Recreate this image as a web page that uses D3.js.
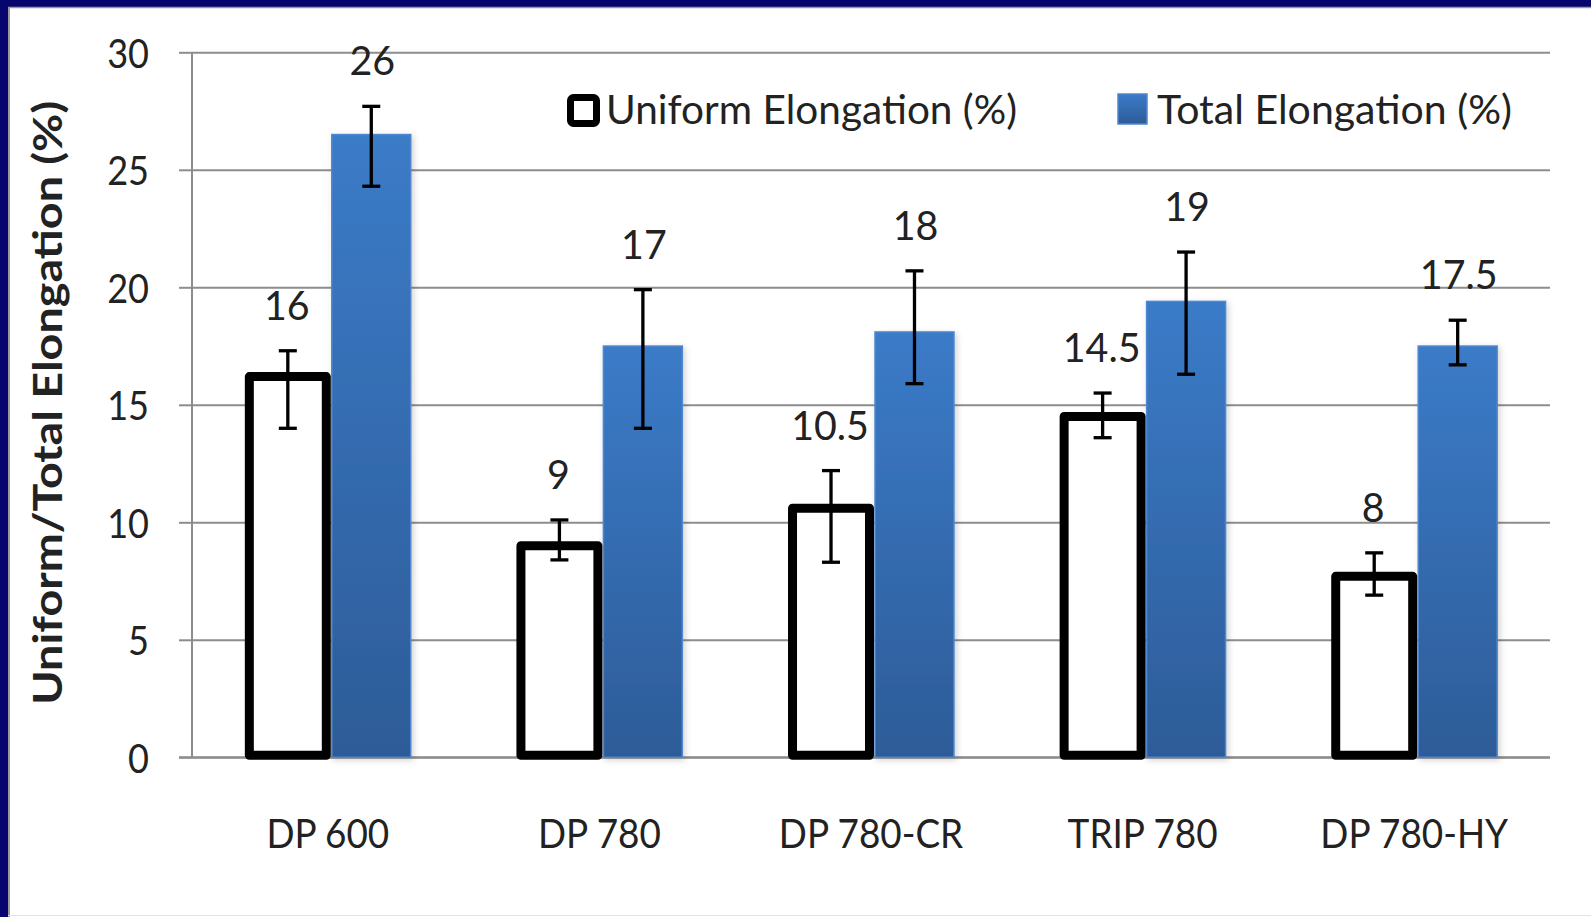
<!DOCTYPE html>
<html>
<head>
<meta charset="utf-8">
<script src="https://cdn.jsdelivr.net/npm/d3@7"></script>
<style>
  html, body { margin: 0; padding: 0; background: #ffffff; }
  svg { display: block; }
  text { font-family: Lato, "Open Sans", sans-serif; fill: #222222; }
</style>
</head>
<body>
<svg id="chart" width="1591" height="917"></svg>
<script>
// ---- data ----
const categories = ["DP 600", "DP 780", "DP 780-CR", "TRIP 780", "DP 780-HY"];
const seriesNames = ["Uniform Elongation (%)", "Total Elongation (%)"];
const uniformValues = [16.2, 9.0, 10.6, 14.5, 7.7];
const totalValues = [26.5, 17.5, 18.1, 19.4, 17.5];
const uniformErrLow = [14.0, 8.4, 8.3, 13.6, 6.9];
const uniformErrHigh = [17.3, 10.1, 12.2, 15.5, 8.7];
const totalErrLow = [24.3, 14.0, 15.9, 16.3, 16.7];
const totalErrHigh = [27.7, 19.9, 20.7, 21.5, 18.6];
const uniformLabels = ["16", "9", "10.5", "14.5", "8"];
const totalLabels = ["26", "17", "18", "19", "17.5"];
const yTicks = [0, 5, 10, 15, 20, 25, 30];
const yTitle = "Uniform/Total Elongation (%)";

// ---- layout ----
const W = 1591, H = 917;
const plot = { left: 192, right: 1550, top: 52.3, bottom: 757.3 };
const FS = 41;

const svg = d3.select("#chart");
const defs = svg.append("defs");
const grad = defs.append("linearGradient").attr("id", "blueGrad")
  .attr("x1", 0).attr("y1", 0).attr("x2", 0).attr("y2", 1);
grad.append("stop").attr("offset", "0%").attr("stop-color", "#3b7bc8");
grad.append("stop").attr("offset", "100%").attr("stop-color", "#2d5c98");

const shadow = defs.append("filter").attr("id", "shadow")
  .attr("x", "-20%").attr("y", "-5%").attr("width", "140%").attr("height", "110%");
shadow.append("feDropShadow").attr("dx", 2).attr("dy", 2).attr("stdDeviation", 3)
  .attr("flood-color", "#000").attr("flood-opacity", 0.18);

// background and frame
svg.append("rect").attr("x", 0).attr("y", 0).attr("width", W).attr("height", H).attr("fill", "#ffffff");
svg.append("rect").attr("x", 0).attr("y", 0).attr("width", W).attr("height", 7).attr("fill", "#06066e");
svg.append("rect").attr("x", 0).attr("y", 0).attr("width", 8).attr("height", H).attr("fill", "#06066e");
svg.append("line").attr("x1", 8).attr("x2", W).attr("y1", 7.5).attr("y2", 7.5).attr("stroke", "#9a9a9a").attr("stroke-width", 1.5);
svg.append("line").attr("x1", 9).attr("x2", 9).attr("y1", 7).attr("y2", H).attr("stroke", "#9a9a9a").attr("stroke-width", 2);
svg.append("line").attr("x1", 8).attr("x2", W).attr("y1", 915.5).attr("y2", 915.5).attr("stroke", "#e2e2e2").attr("stroke-width", 1);

// scales
const y = d3.scaleLinear().domain([0, 30]).range([plot.bottom, plot.top]);
const x0 = d3.scaleBand().domain(categories).range([plot.left, plot.right])
  .paddingInner(0.389).paddingOuter(0.1945);
const x1 = d3.scaleBand().domain(seriesNames).range([0, x0.bandwidth()]);

// gridlines via axis
const gridAxis = d3.axisLeft(y).tickValues(yTicks).tickSize(-(plot.right - plot.left)).tickFormat("");
const gG = svg.append("g").attr("transform", `translate(${plot.left},0)`).call(gridAxis);
gG.select(".domain").remove();
gG.selectAll(".tick line").attr("stroke", "#8d8d8d").attr("stroke-width", 2);

// y axis with ticks
const yAxis = d3.axisLeft(y).tickValues(yTicks).tickSize(13).tickPadding(0).tickFormat(d3.format("d"));
const yG = svg.append("g").attr("transform", `translate(${plot.left},0)`).call(yAxis);
yG.select(".domain").attr("stroke", "#8d8d8d").attr("stroke-width", 2)
  .attr("d", `M0,${plot.top}V${plot.bottom}`);
yG.selectAll(".tick line").attr("stroke", "#8d8d8d").attr("stroke-width", 2);
yG.selectAll(".tick text").remove();
yG.selectAll(".tick").append("text")
  .attr("transform", `translate(-43,15) scale(0.88,1)`)
  .attr("text-anchor", "end")
  .style("font-size", FS + "px")
  .text(d => d3.format("d")(d));

// x axis category labels
const xAxis = d3.axisBottom(x0).tickSize(0).tickPadding(0);
const xG = svg.append("g").attr("transform", `translate(0,${plot.bottom})`).call(xAxis);
xG.select(".domain").remove();
xG.selectAll(".tick text").remove();
xG.selectAll(".tick").append("text")
  .attr("transform", `translate(0,91) scale(0.9,1)`)
  .attr("text-anchor", "middle")
  .style("font-size", FS + "px")
  .text(d => d);

// baseline
svg.append("line").attr("x1", plot.left - 13).attr("x2", plot.right)
  .attr("y1", plot.bottom).attr("y2", plot.bottom).attr("stroke", "#8d8d8d").attr("stroke-width", 2);

// bars
const rows = categories.map((c, i) => ({
  cat: c, u: uniformValues[i], t: totalValues[i],
  uLo: uniformErrLow[i], uHi: uniformErrHigh[i],
  tLo: totalErrLow[i], tHi: totalErrHigh[i],
  uLab: uniformLabels[i], tLab: totalLabels[i]
}));

const bw = x1.bandwidth();
const uX = d => x0(d.cat) + x1(seriesNames[0]) + 4.5;
const uW = bw - 6;
const tX = d => x0(d.cat) + x1(seriesNames[1]) + 4;
const tW = bw - 4;

const groups = svg.append("g");
groups.selectAll("rect.total").data(rows).join("rect").attr("class", "total")
  .attr("x", tX).attr("width", tW)
  .attr("y", d => y(d.t)).attr("height", d => y(0) - y(d.t))
  .attr("fill", "url(#blueGrad)")
  .attr("stroke", "#4f88d0").attr("stroke-width", 1.5)
  .attr("filter", "url(#shadow)");

groups.selectAll("rect.uniform").data(rows).join("rect").attr("class", "uniform")
  .attr("x", uX).attr("width", uW)
  .attr("y", d => y(d.u)).attr("height", d => y(0) - y(d.u) - 2)
  .attr("fill", "#ffffff")
  .attr("stroke", "#000000").attr("stroke-width", 9)
  .attr("stroke-linejoin", "round");

// error bars
const cap = 9;
function errBars(cls, cx, lo, hi) {
  const g = svg.append("g").attr("class", cls);
  const e = g.selectAll("g").data(rows).join("g");
  e.append("line").attr("x1", cx).attr("x2", cx).attr("y1", d => y(hi(d))).attr("y2", d => y(lo(d)))
    .attr("stroke", "#000").attr("stroke-width", 3.3);
  e.append("line").attr("x1", d => cx(d) - cap).attr("x2", d => cx(d) + cap)
    .attr("y1", d => y(hi(d))).attr("y2", d => y(hi(d))).attr("stroke", "#000").attr("stroke-width", 3.3);
  e.append("line").attr("x1", d => cx(d) - cap).attr("x2", d => cx(d) + cap)
    .attr("y1", d => y(lo(d))).attr("y2", d => y(lo(d))).attr("stroke", "#000").attr("stroke-width", 3.3);
}
errBars("uerr", d => uX(d) + uW / 2, d => d.uLo, d => d.uHi);
errBars("terr", d => tX(d) + tW / 2, d => d.tLo, d => d.tHi);

// value labels
const gap = 31;
svg.append("g").selectAll("text").data(rows).join("text")
  .attr("transform", d => `translate(${uX(d) + uW / 2 - 1},${y(d.uHi) - gap}) scale(0.96,1)`)
  .attr("text-anchor", "middle").style("font-size", FS + "px").text(d => d.uLab);
svg.append("g").selectAll("text").data(rows).join("text")
  .attr("transform", d => `translate(${tX(d) + tW / 2 + 1},${y(d.tHi) - gap}) scale(0.96,1)`)
  .attr("text-anchor", "middle").style("font-size", FS + "px").text(d => d.tLab);

// y title
svg.append("text")
  .attr("x", -(plot.top + plot.bottom) / 2 + 2).attr("y", 62)
  .attr("transform", "rotate(-90)")
  .attr("text-anchor", "middle")
  .attr("textLength", 604).attr("lengthAdjust", "spacingAndGlyphs")
  .style("font-size", FS + "px").style("font-weight", "bold")
  .text(yTitle);

// legend
const leg = svg.append("g");
leg.append("rect").attr("x", 570.5).attr("y", 97.5).attr("width", 26).attr("height", 26)
  .attr("rx", 3).attr("fill", "#fff").attr("stroke", "#000").attr("stroke-width", 7);
leg.append("text").attr("x", 606).attr("y", 124)
  .attr("textLength", 411).attr("lengthAdjust", "spacingAndGlyphs")
  .style("font-size", FS + "px").text(seriesNames[0]);
leg.append("rect").attr("x", 1118).attr("y", 94).attr("width", 29).attr("height", 30)
  .attr("fill", "url(#blueGrad)").attr("stroke", "#4f88d0").attr("stroke-width", 1.5);
leg.append("text").attr("x", 1157).attr("y", 124)
  .attr("textLength", 355).attr("lengthAdjust", "spacingAndGlyphs")
  .style("font-size", FS + "px").text(seriesNames[1]);
</script>
</body>
</html>
